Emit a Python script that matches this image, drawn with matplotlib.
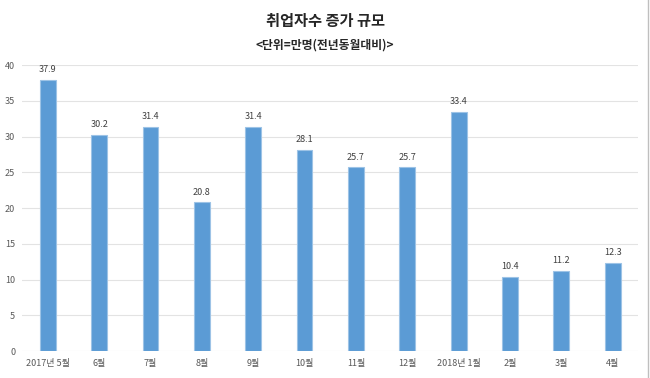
import matplotlib.pyplot as plt
from matplotlib.lines import Line2D

plt.rcParams['font.family'] = ['Noto Sans CJK KR', 'DejaVu Sans']

months = ['2017년 5월', '6월', '7월', '8월', '9월', '10월', '11월', '12월',
          '2018년 1월', '2월', '3월', '4월']
values = [37.9, 30.2, 31.4, 20.8, 31.4, 28.1, 25.7, 25.7, 33.4, 10.4, 11.2, 12.3]
yticks = [0, 5, 10, 15, 20, 25, 30, 35, 40]

fig = plt.figure(figsize=(6.5, 3.78), dpi=100)
ax = fig.add_axes([0.034, 0.0714, 0.948, 0.7566])

x = range(len(months))
ax.bar(x, values, width=0.31, color='#5B9BD5', edgecolor='#9DC3E6', linewidth=0.8, zorder=3)

for i, v in enumerate(values):
    ax.text(i, v + 0.8, f'{v}', ha='center', va='bottom', fontsize=6.5, color='#404040')

ax.set_xlim(-0.5, len(months) - 0.5)
ax.set_ylim(0, 40)
ax.set_yticks(yticks)
ax.set_xticks(list(x))
ax.set_xticklabels(months)
ax.tick_params(axis='both', length=0, labelsize=6.5, colors='#595959')
ax.tick_params(axis='x', pad=6)
ax.tick_params(axis='y', pad=5)
ax.yaxis.grid(True, color='#E3E3E3', linewidth=0.8, zorder=0)
for s in ax.spines.values():
    s.set_visible(False)

fig.text(0.5, 0.945, '취업자수 증가 규모', ha='center', va='center',
         fontsize=11, fontweight='bold', color='#262626')
fig.text(0.5, 0.88, '<단위=만명(전년동월대비)>', ha='center', va='center',
         fontsize=8.5, fontweight='bold', color='#262626')

fig.add_artist(Line2D([0.997, 0.997], [0, 1], color='#BFBFBF', linewidth=1.0,
                      transform=fig.transFigure))

fig.savefig('out.png', dpi=100)
